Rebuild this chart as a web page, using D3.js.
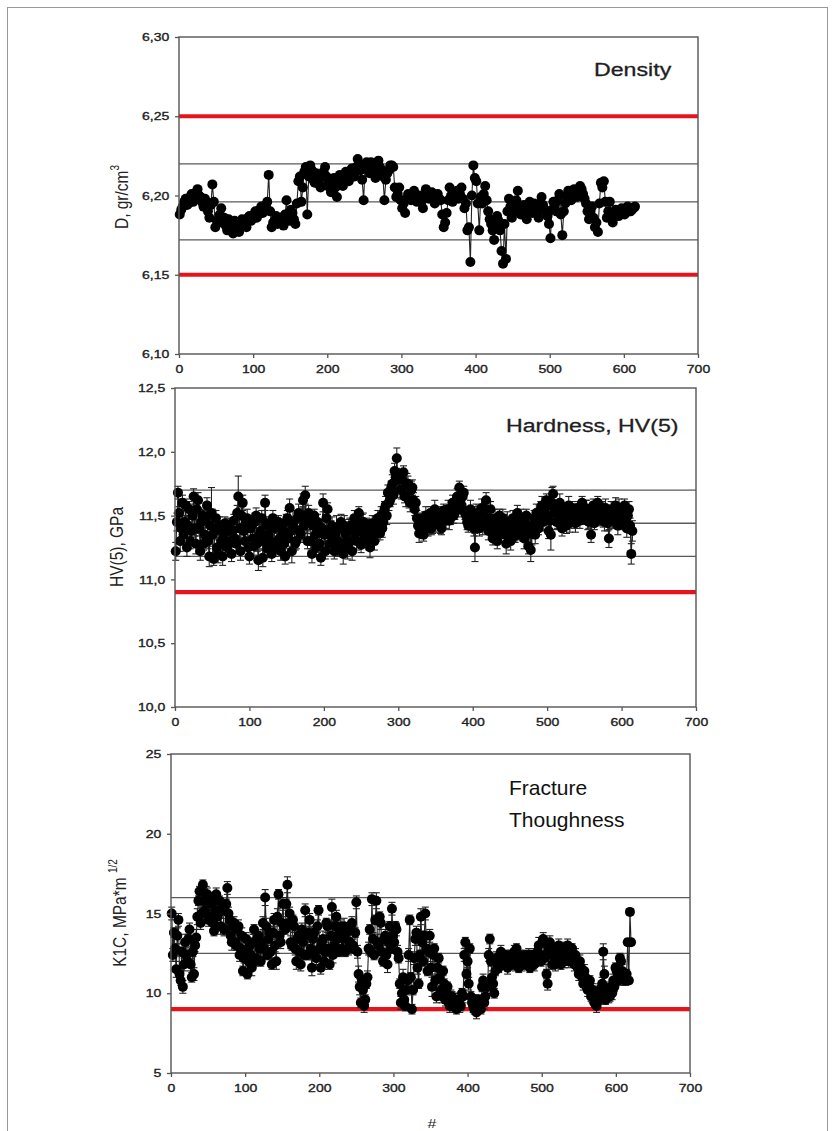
<!DOCTYPE html>
<html>
<head>
<meta charset="utf-8">
<script src="https://cdn.jsdelivr.net/npm/d3@7"></script>
<style>
  body { margin: 0; background: #fff; }
  svg { display: block; font-family: "Liberation Sans", Arial, sans-serif; }
</style>
</head>
<body>
<script>
var
  // sample numbers along the x axis (#)
  xTicks = [0, 100, 200, 300, 400, 500, 600, 700],

  // density, samples #1, #5, #9 ...
  densityValues = [
    6.188, 6.193, 6.198, 6.195, 6.201, 6.197, 6.204, 6.199, 6.193, 6.196,
    6.186, 6.207, 6.180, 6.183, 6.192, 6.186, 6.178, 6.183, 6.176, 6.181,
    6.177, 6.185, 6.182, 6.186, 6.184, 6.188, 6.186, 6.191, 6.189, 6.194,
    6.213, 6.180, 6.184, 6.182, 6.186, 6.181, 6.197, 6.184, 6.189, 6.182,
    6.209, 6.196, 6.215, 6.188, 6.219, 6.210, 6.214, 6.207, 6.212, 6.218,
    6.208, 6.202, 6.211, 6.199, 6.213, 6.206, 6.215, 6.209, 6.217, 6.212,
    6.223, 6.216, 6.197, 6.221, 6.214, 6.219, 6.211, 6.222, 6.216, 6.197,
    6.214, 6.219, 6.218, 6.199, 6.205, 6.192, 6.189, 6.201, 6.197, 6.203,
    6.196, 6.200, 6.192, 6.204, 6.198, 6.202, 6.195, 6.201, 6.197, 6.180,
    6.189, 6.205, 6.196, 6.202, 6.198, 6.205, 6.192, 6.178, 6.158, 6.219,
    6.209, 6.178, 6.195, 6.206, 6.190, 6.182, 6.172, 6.187, 6.178, 6.157,
    6.160, 6.198, 6.186, 6.192, 6.203, 6.188, 6.194, 6.185, 6.196, 6.189,
    6.193, 6.186, 6.199, 6.191, 6.187, 6.173, 6.196, 6.190, 6.201, 6.175,
    6.195, 6.203, 6.197, 6.204, 6.199, 6.206, 6.201, 6.195, 6.185, 6.193,
    6.180, 6.177, 6.208, 6.209, 6.186, 6.196, 6.183, 6.191, 6.187, 6.192,
    6.188, 6.193, 6.190, 6.192
  ],
  // density, samples #3, #7, #11 ...
  densityValuesB = [
    6.191, 6.196, 6.194, 6.199, 6.196, 6.202, 6.200, 6.196, 6.198, 6.190,
    6.194, 6.196, 6.184, 6.188, 6.183, 6.181, 6.185, 6.179, 6.184, 6.180,
    6.182, 6.184, 6.180, 6.187, 6.185, 6.190, 6.188, 6.193, 6.192, 6.196,
    6.190, 6.183, 6.187, 6.185, 6.183, 6.188, 6.186, 6.191, 6.185, 6.195,
    6.212, 6.205, 6.218, 6.212, 6.216, 6.208, 6.211, 6.205, 6.215, 6.212,
    6.205, 6.207, 6.205, 6.209, 6.210, 6.212, 6.211, 6.214, 6.214, 6.218,
    6.219, 6.210, 6.218, 6.217, 6.221, 6.215, 6.219, 6.218, 6.212, 6.210,
    6.216, 6.219, 6.205, 6.201, 6.197, 6.195, 6.198, 6.200, 6.199, 6.198,
    6.198, 6.196, 6.200, 6.201, 6.200, 6.198, 6.199, 6.198, 6.188, 6.183,
    6.197, 6.200, 6.199, 6.203, 6.201, 6.198, 6.195, 6.180, 6.200, 6.211,
    6.195, 6.199, 6.201, 6.197, 6.185, 6.178, 6.182, 6.184, 6.165, 6.182,
    6.190, 6.193, 6.190, 6.197, 6.192, 6.190, 6.190, 6.192, 6.192, 6.195,
    6.190, 6.195, 6.194, 6.190, 6.182, 6.191, 6.194, 6.197, 6.188, 6.190,
    6.199, 6.200, 6.201, 6.202, 6.203, 6.204, 6.198, 6.190, 6.190, 6.186,
    6.183, 6.195, 6.205, 6.196, 6.190, 6.188, 6.187, 6.189, 6.190, 6.189,
    6.191, 6.190, 6.191, 6.193
  ],
  densityTicks  = [6.10, 6.15, 6.20, 6.25, 6.30],
  densityLimits = [6.15, 6.25],
  densityGuides = [6.172, 6.196, 6.22],

  // hardness HV(5), samples #1, #4, #7 ...
  hardnessValues = [
    11.22, 11.68, 11.30, 11.60, 11.45, 11.25, 11.55, 11.38, 11.65, 11.28,
    11.62, 11.22, 11.50, 11.35, 11.58, 11.18, 11.52, 11.16, 11.48, 11.20,
    11.40, 11.18, 11.44, 11.25, 11.38, 11.20, 11.46, 11.28, 11.65, 11.22,
    11.60, 11.30, 11.48, 11.18, 11.42, 11.26, 11.50, 11.15, 11.38, 11.17,
    11.60, 11.24, 11.44, 11.20, 11.40, 11.28, 11.45, 11.22, 11.36, 11.18,
    11.48, 11.56, 11.22, 11.40, 11.30, 11.52, 11.35, 11.62, 11.66, 11.30,
    11.45, 11.20, 11.50, 11.25, 11.40, 11.17, 11.60, 11.22, 11.55, 11.28,
    11.42, 11.22, 11.38, 11.26, 11.45, 11.20, 11.36, 11.25, 11.42, 11.22,
    11.48, 11.30, 11.52, 11.27, 11.45, 11.33, 11.40, 11.25, 11.44, 11.30,
    11.36, 11.42, 11.50, 11.45, 11.58, 11.68, 11.62, 11.75, 11.85, 11.95,
    11.80, 11.70, 11.84, 11.65, 11.75, 11.60, 11.72, 11.55, 11.48, 11.36,
    11.45, 11.35, 11.50, 11.40, 11.52, 11.42, 11.55, 11.45, 11.50, 11.40,
    11.54, 11.46, 11.55, 11.48, 11.60, 11.52, 11.65, 11.72, 11.58, 11.68,
    11.50, 11.42, 11.55, 11.45, 11.25, 11.52, 11.40, 11.56, 11.45, 11.62,
    11.38, 11.55, 11.32, 11.48, 11.30, 11.50, 11.36, 11.45, 11.28, 11.40,
    11.30, 11.48, 11.34, 11.52, 11.38, 11.45, 11.32, 11.50, 11.26, 11.23,
    11.42, 11.35, 11.50, 11.45, 11.58, 11.48, 11.62, 11.38, 11.35, 11.67,
    11.52, 11.45, 11.60, 11.40, 11.55, 11.42, 11.58, 11.48, 11.53, 11.44,
    11.56, 11.46, 11.60, 11.50, 11.55, 11.45, 11.35, 11.58, 11.50, 11.60,
    11.48, 11.56, 11.45, 11.52, 11.32, 11.55, 11.46, 11.58, 11.42, 11.50,
    11.45, 11.58, 11.40, 11.55, 11.20
  ],
  // hardness HV(5), samples #2.5, #5.5 ...
  hardnessValuesB = [
    11.45, 11.52, 11.40, 11.35, 11.58, 11.42, 11.30, 11.50, 11.40, 11.55,
    11.40, 11.45, 11.28, 11.48, 11.30, 11.42, 11.35, 11.38, 11.25, 11.42,
    11.30, 11.35, 11.26, 11.42, 11.30, 11.38, 11.32, 11.52, 11.40, 11.50,
    11.38, 11.45, 11.25, 11.40, 11.32, 11.45, 11.28, 11.35, 11.48, 11.30,
    11.42, 11.35, 11.30, 11.48, 11.25, 11.42, 11.32, 11.40, 11.28, 11.45,
    11.32, 11.38, 11.45, 11.28, 11.48, 11.38, 11.50, 11.42, 11.45, 11.52,
    11.30, 11.42, 11.35, 11.45, 11.28, 11.40, 11.35, 11.48, 11.35, 11.40,
    11.30, 11.36, 11.30, 11.40, 11.28, 11.42, 11.30, 11.38, 11.30, 11.40,
    11.36, 11.42, 11.38, 11.45, 11.32, 11.42, 11.30, 11.38, 11.34, 11.42,
    11.48, 11.36, 11.40, 11.55, 11.50, 11.60, 11.72, 11.66, 11.80, 11.78,
    11.70, 11.78, 11.65, 11.75, 11.62, 11.70, 11.62, 11.60, 11.42, 11.45,
    11.38, 11.48, 11.42, 11.46, 11.40, 11.50, 11.44, 11.52, 11.42, 11.48,
    11.48, 11.52, 11.46, 11.56, 11.50, 11.58, 11.55, 11.62, 11.65, 11.52,
    11.45, 11.52, 11.46, 11.40, 11.48, 11.44, 11.52, 11.42, 11.55, 11.48,
    11.48, 11.42, 11.45, 11.38, 11.45, 11.40, 11.48, 11.35, 11.45, 11.34,
    11.42, 11.36, 11.45, 11.40, 11.48, 11.36, 11.44, 11.38, 11.40, 11.36,
    11.48, 11.52, 11.40, 11.55, 11.45, 11.56, 11.50, 11.46, 11.60, 11.55,
    11.45, 11.55, 11.48, 11.52, 11.46, 11.50, 11.44, 11.56, 11.46, 11.52,
    11.50, 11.54, 11.48, 11.56, 11.46, 11.52, 11.50, 11.44, 11.56, 11.48,
    11.54, 11.46, 11.56, 11.44, 11.50, 11.46, 11.54, 11.48, 11.56, 11.46,
    11.52, 11.46, 11.50, 11.42, 11.38
  ],
  hardnessErrors = [
    .07, .05, .08, .06, .05, .07, .06, .05, .06, .08,
    .06, .07, .05, .06, .06, .08, .20, .05, .06, .07,
    .06, .07, .05, .06, .07, .06, .05, .06, .16, .07,
    .06, .05, .07, .06, .05, .07, .06, .08, .06, .07,
    .06, .07, .05, .06, .07, .06, .05, .07, .06, .06,
    .06, .07, .09, .05, .06, .07, .06, .05, .07, .06,
    .06, .07, .05, .06, .07, .06, .07, .06, .05, .06,
    .07, .06, .12, .07, .06, .08, .05, .09, .06, .07,
    .06, .07, .05, .06, .07, .06, .07, .08, .06, .07,
    .06, .05, .07, .06, .07, .06, .05, .07, .06, .08,
    .06, .07, .05, .08, .06, .07, .06, .05, .06, .07,
    .06, .05, .07, .06, .05, .06, .07, .05, .06, .05,
    .05, .06, .07, .05, .06, .05, .06, .05, .06, .05,
    .06, .05, .07, .06, .11, .05, .06, .07, .05, .06,
    .07, .06, .05, .07, .06, .05, .07, .06, .08, .05,
    .07, .06, .05, .06, .07, .06, .08, .05, .06, .09,
    .06, .07, .05, .06, .07, .06, .05, .06, .12, .06,
    .06, .05, .07, .06, .05, .06, .07, .05, .06, .07,
    .05, .06, .05, .06, .07, .05, .06, .05, .06, .05,
    .06, .05, .07, .06, .07, .06, .05, .06, .07, .06,
    .06, .05, .07, .06, .08
  ],
  hardnessTicks  = [10.0, 10.5, 11.0, 11.5, 12.0, 12.5],
  hardnessLimits = [10.9],
  hardnessGuides = [11.18, 11.44, 11.70],

  // fracture toughness K1C, samples #1, #4, #7 ...
  toughValues = [
    15.0, 13.8, 11.5, 14.6, 10.8, 10.4, 13.2, 12.0, 14.0, 11.0,
    11.2, 13.5, 15.8, 14.4, 16.8, 15.2, 16.2, 14.8, 15.6, 13.9,
    16.2, 15.0, 14.2, 15.4, 14.0, 16.6, 14.6, 13.2, 14.4, 13.0,
    14.2, 12.8, 11.4, 12.6, 11.2, 13.0, 11.6, 14.0, 12.2, 13.6,
    12.0, 14.4, 16.0, 12.4, 13.8, 11.8, 14.6, 12.0, 16.2, 13.2,
    15.6, 14.0, 16.8, 15.0, 13.0, 14.2, 12.0, 13.6, 11.8, 13.2,
    15.2, 12.4, 14.6, 11.6, 13.8, 12.2, 15.2, 11.6, 13.4, 12.6,
    14.2, 11.8, 15.4, 13.0, 14.8, 12.6, 14.2, 13.4, 12.6, 14.0,
    13.2, 14.4, 12.8, 15.7, 11.2, 9.4, 10.2, 9.6, 11.0, 14.0,
    15.9, 12.4, 15.8, 13.0, 14.4, 12.0, 13.6, 11.8, 14.2, 15.3,
    13.2, 14.0, 12.2, 9.4, 11.0, 9.2, 10.8, 14.6, 9.0, 12.2,
    13.8, 10.6, 14.8, 12.0, 15.0, 11.4, 13.6, 10.4, 12.8, 9.8,
    12.2, 10.2, 11.4, 9.6, 10.4, 9.2, 9.8, 9.4, 9.0, 9.6,
    9.2, 9.8, 13.2, 12.0, 12.8, 9.4, 9.0, 8.8, 9.6, 9.0,
    10.8, 9.8, 10.4, 13.4, 11.0, 10.0, 12.2, 11.6, 12.6, 11.8,
    12.4, 11.6, 12.0, 11.8, 12.6, 12.8, 11.6, 12.2, 11.8, 12.4,
    12.0, 11.6, 12.4, 11.8, 12.2, 13.0, 12.0, 13.4, 12.4, 10.6,
    13.2, 11.8, 12.6, 12.2, 13.0, 11.8, 12.8, 12.2, 13.0, 12.4,
    12.8, 11.8, 12.0, 11.2, 11.6, 10.6, 11.0, 10.2, 10.8, 9.8,
    9.4, 9.2, 9.6, 9.8, 12.6, 9.6, 10.2, 9.8, 10.0, 10.4,
    11.4, 10.8, 12.0, 11.0, 10.8, 13.2, 15.1
  ],
  // fracture toughness K1C, samples #2.5, #5.5 ...
  toughValuesB = [
    12.4, 12.8, 13.6, 11.2, 12.6, 11.8, 12.4, 13.4, 11.8, 12.6,
    13.0, 14.8, 16.4, 15.0, 15.8, 16.2, 14.6, 15.8, 14.4, 15.2,
    14.8, 15.8, 15.2, 14.0, 15.6, 15.0, 13.6, 14.2, 13.2, 14.0,
    12.4, 13.6, 12.2, 13.4, 12.0, 12.4, 13.2, 12.0, 13.4, 12.8,
    13.2, 12.8, 14.2, 13.4, 12.6, 13.8, 13.0, 14.8, 13.6, 14.4,
    14.2, 15.6, 14.4, 13.2, 14.6, 12.8, 13.4, 12.6, 14.0, 12.4,
    13.6, 13.8, 12.8, 13.4, 12.6, 14.2, 12.8, 13.2, 12.0, 14.4,
    12.8, 13.6, 12.4, 14.2, 13.4, 13.8, 12.8, 14.2, 13.8, 12.8,
    14.0, 13.0, 13.8, 12.6, 10.4, 10.8, 9.2, 10.6, 12.8, 12.6,
    13.4, 14.6, 13.2, 14.8, 12.6, 13.4, 12.4, 13.2, 12.8, 13.6,
    14.2, 12.6, 10.6, 10.0, 9.6, 10.2, 12.4, 11.0, 10.2, 13.4,
    11.6, 12.4, 13.2, 13.6, 12.8, 12.6, 11.6, 12.4, 10.8, 11.6,
    11.0, 9.8, 10.6, 10.0, 9.4, 9.8, 9.2, 9.6, 9.4, 9.2,
    10.0, 12.4, 11.2, 10.6, 9.8, 9.2, 9.6, 9.4, 9.2, 10.4,
    9.4, 10.6, 12.4, 12.0, 10.6, 11.4, 11.8, 12.4, 12.0, 12.2,
    11.8, 12.2, 12.4, 12.2, 11.8, 12.2, 12.4, 11.8, 12.2, 12.0,
    12.4, 12.0, 11.8, 12.4, 12.6, 12.4, 13.2, 12.2, 11.2, 12.8,
    12.4, 12.8, 11.8, 12.8, 12.2, 12.6, 12.0, 12.6, 12.0, 12.8,
    12.2, 12.4, 11.6, 12.0, 11.0, 11.4, 10.4, 10.6, 9.8, 10.2,
    9.8, 9.6, 10.2, 10.6, 11.2, 10.0, 9.8, 10.4, 10.8, 11.6,
    11.0, 12.2, 11.4, 10.8, 11.2, 10.8, 13.2
  ],
  toughErrors = [
    .4, .3, .5, .4, .3, .4, .5, .3, .4, .3,
    .4, .5, .3, .4, .3, .5, .4, .3, .4, .3,
    .4, .3, .5, .4, .3, .4, .3, .5, .4, .3,
    .4, .5, .3, .4, .3, .4, .5, .3, .4, .3,
    .3, .4, .5, .3, .4, .3, .4, .5, .3, .4,
    .4, .3, .5, .4, .3, .4, .5, .3, .4, .3,
    .4, .3, .4, .5, .3, .4, .3, .4, .5, .3,
    .4, .3, .5, .3, .4, .3, .4, .5, .3, .4,
    .3, .4, .3, .4, .5, .3, .4, .3, .4, .3,
    .4, .3, .5, .3, .4, .3, .4, .5, .3, .4,
    .3, .4, .3, .4, .5, .3, .4, .3, .3, .4,
    .4, .3, .5, .3, .4, .3, .4, .6, .3, .4,
    .3, .4, .3, .4, .3, .4, .3, .4, .3, .4,
    .3, .4, .3, .4, .3, .4, .3, .4, .3, .3,
    .4, .3, .4, .3, .4, .3, .4, .3, .4, .3,
    .3, .4, .3, .3, .4, .3, .3, .4, .3, .3,
    .4, .3, .3, .4, .3, .5, .3, .4, .3, .4,
    .4, .3, .4, .3, .4, .3, .4, .3, .4, .3,
    .3, .4, .3, .4, .3, .4, .3, .4, .3, .4,
    .3, .4, .3, .4, .5, .3, .4, .3, .4, .3,
    .4, .3, .4, .3, .3, .2, .2
  ],
  toughTicks  = [5, 10, 15, 20, 25],
  toughLimits = [9],
  toughGuides = [12.5, 16],

  listen = function listen(event, elem, fn) {
    if (elem.addEventListener) {
      return elem.addEventListener(event, fn, false);
    }
    return elem.attachEvent('on' + event, fn);
  },

  commaLocale = d3.formatLocale({decimal: ',', thousands: '.', grouping: [3], currency: ['', '']}),

  config = {
    w: 835,
    h: 1131,
    stretch: 1.22   // the scanned figure is widened, text included
  },

  panels = [
    {
      runs: [
        {values: densityValues, errors: null, first: 1, step: 4},
        {values: densityValuesB, errors: null, first: 3, step: 4}
      ],
      r: 5,
      domain: [6.10, 6.30], ticks: densityTicks, fmt: commaLocale.format('.2f'),
      limits: densityLimits, guides: densityGuides,
      left: 179, right: 698, top: 37, bottom: 354,
      title: ['D, gr/cm', '3'], titleX: 128, titleY: 197,
      note: 'Density', noteX: 594, noteY: 76
    },
    {
      runs: [
        {values: hardnessValues, errors: hardnessErrors, first: 1, step: 3},
        {values: hardnessValuesB, errors: hardnessErrors, first: 2.5, step: 3}
      ],
      r: 5,
      domain: [10.0, 12.5], ticks: hardnessTicks, fmt: commaLocale.format('.1f'),
      limits: hardnessLimits, guides: hardnessGuides,
      left: 175, right: 696, top: 388, bottom: 707,
      title: ['HV(5), GPa', ''], titleX: 123, titleY: 547,
      note: 'Hardness, HV(5)', noteX: 506, noteY: 432
    },
    {
      runs: [
        {values: toughValues, errors: toughErrors, first: 1, step: 3},
        {values: toughValuesB, errors: toughErrors, first: 2.5, step: 3}
      ],
      r: 5,
      domain: [5, 25], ticks: toughTicks, fmt: d3.format('d'),
      limits: toughLimits, guides: toughGuides,
      left: 171, right: 690, top: 754, bottom: 1073,
      title: ['K1C, MPa*m ', '1/2'], titleX: 126, titleY: 913,
      note: null
    }
  ],

  collectPoints = function collectPoints(runs) {
    var pts = [];
    runs.forEach(function (run) {
      run.values.forEach(function (v, i) {
        pts.push({n: run.first + i * run.step, v: v, e: run.errors ? run.errors[i] : 0});
      });
    });
    return pts.sort(function (a, b) { return a.n - b.n; });
  },

  drawPanel = function drawPanel(svg, p) {
    var
      x = d3.scaleLinear().domain([0, 700]).range([p.left, p.right]),
      y = d3.scaleLinear().domain(p.domain).range([p.bottom, p.top]),
      g = svg.append('g'),
      pts = collectPoints(p.runs),
      line = d3.line().x(function (d) { return x(d.n); }).y(function (d) { return y(d.v); }),
      yAxis, xAxis, t, bars;

    g.selectAll('line.guide').data(p.guides).enter().append('line')
      .attr('x1', x(0)).attr('x2', x(700))
      .attr('y1', function (d) { return y(d); }).attr('y2', function (d) { return y(d); })
      .attr('stroke', '#5a5a5a').attr('stroke-width', 1.3);

    g.selectAll('line.limit').data(p.limits).enter().append('line')
      .attr('x1', x(0)).attr('x2', x(700))
      .attr('y1', function (d) { return y(d); }).attr('y2', function (d) { return y(d); })
      .attr('stroke', '#e8141c').attr('stroke-width', 4.2);

    g.append('path').datum(pts)
      .attr('d', line).attr('fill', 'none')
      .attr('stroke', '#222').attr('stroke-width', 1.1);

    bars = g.selectAll('g.err').data(pts.filter(function (d) { return d.e > 0; })).enter().append('g')
      .attr('stroke', '#222').attr('stroke-width', 1.1);
    bars.append('line')
      .attr('x1', function (d) { return x(d.n); }).attr('x2', function (d) { return x(d.n); })
      .attr('y1', function (d) { return y(d.v - d.e); }).attr('y2', function (d) { return y(d.v + d.e); });
    [-1, 1].forEach(function (s) {
      bars.append('line')
        .attr('x1', function (d) { return x(d.n) - 3.5; }).attr('x2', function (d) { return x(d.n) + 3.5; })
        .attr('y1', function (d) { return y(d.v + s * d.e); }).attr('y2', function (d) { return y(d.v + s * d.e); });
    });

    g.selectAll('circle').data(pts).enter().append('circle')
      .attr('cx', function (d) { return x(d.n); })
      .attr('cy', function (d) { return y(d.v); })
      .attr('r', p.r).attr('fill', '#000');

    g.append('rect')
      .attr('x', p.left).attr('y', p.top)
      .attr('width', p.right - p.left).attr('height', p.bottom - p.top)
      .attr('fill', 'none').attr('stroke', '#555').attr('stroke-width', 1.4);

    yAxis = g.append('g').attr('transform', 'translate(' + p.left + ',0)')
      .call(d3.axisLeft(y).tickValues(p.ticks).tickFormat(p.fmt).tickSize(4).tickPadding(4));
    xAxis = g.append('g').attr('transform', 'translate(0,' + p.bottom + ')')
      .call(d3.axisBottom(x).tickValues(xTicks).tickSize(4).tickPadding(7));

    [yAxis, xAxis].forEach(function (a) {
      a.select('.domain').remove();
      a.selectAll('line').attr('stroke', '#555').attr('stroke-width', 1.3);
      a.selectAll('text')
        .attr('font-family', '"Liberation Sans", Arial, sans-serif')
        .attr('font-size', 11.5).attr('fill', '#1e1e1e')
        .attr('stroke', '#1e1e1e').attr('stroke-width', 0.35)
        .attr('transform', 'scale(' + config.stretch + ',1)');
    });

    t = g.append('text')
      .attr('transform', 'translate(' + p.titleX + ',' + p.titleY + ') scale(' + config.stretch + ',1) rotate(-90)')
      .attr('text-anchor', 'middle').attr('font-size', 15.5).attr('fill', '#222');
    t.append('tspan').text(p.title[0]);
    if (p.title[1]) {
      t.append('tspan').attr('font-size', 10).attr('dy', -7).text(p.title[1]);
    }

    if (p.note) {
      g.append('text')
        .attr('transform', 'translate(' + p.noteX + ',' + p.noteY + ') scale(' + config.stretch + ',1)')
        .attr('font-size', 19).attr('fill', '#1e1e1e')
        .attr('stroke', '#1e1e1e').attr('stroke-width', 0.3)
        .text(p.note);
    }
  },

  drawFigure = function drawFigure() {
    var svg = d3.select('body').append('svg')
      .attr('width', config.w).attr('height', config.h);

    svg.append('rect')
      .attr('x', 7.5).attr('y', 7.5).attr('width', 820).attr('height', 1140)
      .attr('fill', '#fff').attr('stroke', '#999').attr('stroke-width', 1);

    panels.forEach(function (p) { drawPanel(svg, p); });

    // the lost "#" title of the hardness panel, mostly hidden under the next panel
    svg.append('clipPath').attr('id', 'cut')
      .append('rect').attr('x', 400).attr('y', 740).attr('width', 60).attr('height', 13);
    svg.append('text').attr('clip-path', 'url(#cut)')
      .attr('transform', 'translate(432,760) scale(' + config.stretch + ',1)')
      .attr('text-anchor', 'middle').attr('font-size', 13).attr('fill', '#333').text('#');

    svg.append('text')
      .attr('transform', 'translate(432,1128) scale(' + config.stretch + ',1)')
      .attr('text-anchor', 'middle').attr('font-size', 13).attr('fill', '#222').text('#');

    svg.append('text').attr('x', 509).attr('y', 795)
      .attr('font-size', 21).attr('fill', '#111').text('Fracture');
    svg.append('text').attr('x', 509).attr('y', 827)
      .attr('font-size', 21).attr('fill', '#111').text('Thoughness');
  },

  init = function init() {
    drawFigure();
  };

listen('load', window, init);
</script>
</body>
</html>
